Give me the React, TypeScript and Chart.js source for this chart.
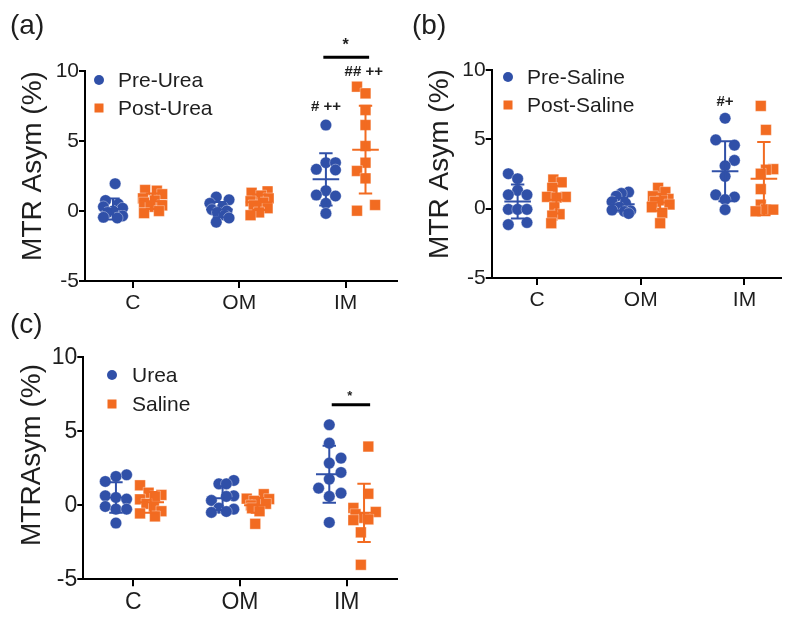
import React, { useEffect, useRef } from 'react';
import { Chart, registerables } from 'chart.js';

Chart.register(...registerables);

const FONT = "'Liberation Sans', Arial, Helvetica, sans-serif";
const BLUE = '#3050A8';
const ORANGE = '#F26B21';
const TEXT = '#1e1e1e';

const categories = ['C', 'OM', 'IM'];
const categoryPositions = [1, 2, 3];
const yTickValues = [-5, 0, 5, 10];

// ---------- (a) Urea ----------
const preUreaValues = [
  [1.95, 0.75, 0.5, 0.3, 0.2, 0.0, -0.1, -0.35, -0.45, -0.5],
  [1.0, 0.8, 0.55, 0.3, 0.1, 0.0, -0.1, -0.3, -0.5, -0.8],
  [6.14, 3.45, 3.45, 2.98, 2.93, 1.45, 1.14, 1.07, 0.55, -0.17],
];
const preUreaJitter = [
  [0.02, -0.07, 0.05, -0.09, 0.09, 0.0, -0.05, 0.09, -0.09, 0.04],
  [-0.03, 0.09, -0.09, 0.03, -0.07, 0.07, -0.02, 0.05, 0.09, -0.03],
  [0, 0, 0.09, -0.09, 0.09, 0, -0.09, 0.09, 0, 0],
];
const preUreaMean = [0.15, 0.1, 2.26];
const preUreaSD = [0.75, 0.55, 1.87];

const postUreaValues = [
  [1.5, 1.45, 1.2, 0.9, 0.75, 0.6, 0.4, 0.3, 0.0, -0.15],
  [1.4, 1.3, 1.1, 0.9, 0.7, 0.6, 0.4, 0.2, -0.1, -0.3],
  [8.88, 8.4, 7.21, 6.14, 4.64, 3.45, 2.86, 2.33, 0.02, 0.43],
];
const postUreaJitter = [
  [-0.07, 0.04, 0.09, -0.09, 0.02, -0.08, 0.09, -0.02, 0.06, -0.08],
  [0.08, -0.07, 0.02, 0.09, -0.08, 0.04, -0.05, 0.08, 0.0, -0.08],
  [-0.08, 0, 0, 0, 0, 0, -0.08, 0, -0.08, 0.09],
];
const postUreaMean = [0.7, 0.62, 4.38];
const postUreaSD = [0.55, 0.55, 3.13];

// ---------- (b) Saline ----------
const preSalineValues = [
  [2.52, 2.16, 1.32, 1.0, 1.0, -0.05, -0.05, -0.05, -1.0, -1.15],
  [1.2, 1.1, 0.9, 0.5, 0.4, 0.1, -0.1, -0.15, -0.2, -0.35],
  [6.52, 4.96, 4.58, 3.48, 3.09, 2.33, 1.0, 0.84, 0.65, -0.07],
];
const preSalineJitter = [
  [-0.09, 0, 0, -0.09, 0.09, -0.09, 0, 0.09, 0.09, -0.09],
  [0.07, 0.0, -0.05, -0.09, 0.04, -0.02, -0.09, 0.09, 0.03, 0.07],
  [0, -0.09, 0.09, 0.09, 0, 0, -0.09, 0.09, 0, 0],
];
const preSalineMean = [0.52, 0.32, 2.7];
const preSalineSD = [1.23, 0.45, 2.17];

const postSalineValues = [
  [2.1, 1.9, 1.5, 0.85, 0.85, 0.8, 0.1, -0.4, -0.5, -1.05],
  [1.5, 1.2, 0.9, 0.7, 0.6, 0.5, 0.3, 0.1, -0.3, -1.05],
  [7.41, 5.68, 2.85, 2.81, 2.52, 1.41, 0.29, -0.05, -0.07, -0.19],
];
const postSalineJitter = [
  [-0.03, 0.05, -0.04, -0.09, 0.09, 0.0, -0.02, 0.03, -0.04, -0.05],
  [-0.02, 0.05, -0.07, 0.08, 0.02, -0.05, 0.09, -0.08, 0.02, 0.0],
  [-0.03, 0.02, 0.09, 0.02, -0.03, -0.03, -0.03, 0.02, 0.09, -0.08],
];
const postSalineMean = [0.65, 0.45, 2.16];
const postSalineSD = [1.0, 0.6, 2.64];

// ---------- (c) Urea vs Saline ----------
const ureaValues = [
  [2.06, 1.95, 1.61, 0.64, 0.53, 0.42, -0.08, -0.26, -0.26, -1.2],
  [1.68, 1.45, 1.45, 0.64, 0.6, 0.33, -0.19, -0.26, -0.42, -0.48],
  [5.44, 4.2, 3.19, 2.85, 2.22, 1.77, 1.16, 0.82, 0.6, -1.16],
];
const ureaJitter = [
  [0.1, 0, -0.1, -0.1, 0, 0.1, -0.1, 0, 0.1, 0],
  [0.105, -0.035, 0.035, 0.105, 0.035, -0.105, -0.035, 0.105, 0.035, -0.105],
  [0, 0, 0.11, 0, 0.11, 0, -0.1, 0.11, 0, 0],
];
const ureaMean = [0.52, 0.48, 2.1];
const ureaSD = [1.03, 0.8, 1.92];

const salineValues = [
  [1.35, 0.85, 0.7, 0.6, 0.4, 0.1, -0.1, -0.4, -0.55, -0.75],
  [0.75, 0.45, 0.42, 0.3, 0.15, 0.1, 0, -0.2, -0.4, -1.25],
  [3.97, 0.78, -0.18, -0.45, -0.6, -0.85, -0.95, -1.0, -1.83, -4.02],
];
const salineJitter = [
  [-0.1, -0.02, 0.1, 0.04, -0.1, -0.04, 0.03, 0.1, -0.1, 0.04],
  [0.06, -0.1, 0.11, -0.03, 0.0, 0.08, -0.06, -0.05, 0.02, -0.02],
  [0.04, 0.04, -0.1, 0.11, -0.08, 0.0, 0.04, -0.1, -0.03, -0.03],
];
const salineMean = [0.2, 0.0, -0.51];
const salineSD = [0.7, 0.5, 1.97];

type SeriesDef = {
  label: string;
  values: number[][];
  jitter: number[][];
  mean: number[];
  sd: number[];
  color: string;
  style: 'circle' | 'rect';
  offset: number;
};

type TextMark = { text: string; x: number; y: number; size: number };
type BarMark = { x1: number; x2: number; y: number; width: number };

type PanelDef = {
  left: number;
  top: number;
  width: number;
  height: number;
  padTop: number;
  padRight: number;
  yWidth: number;
  xHeight: number;
  xMin: number;
  xMax: number;
  tickSize: number;
  letter: string;
  letterAt: [number, number];
  yTitle: string;
  yTitleAt: [number, number];
  yTitleSize: number;
  legendAt: [number, number];
  legendGap: number;
  legendTextDx: number;
  series: SeriesDef[];
  texts: TextMark[];
  bars: BarMark[];
};

const panels: PanelDef[] = [
  {
    left: 0, top: 0, width: 405, height: 320,
    padTop: 71, padRight: 5, yWidth: 85, xHeight: 39,
    xMin: 0.551, xMax: 3.48, tickSize: 21,
    letter: '(a)', letterAt: [10, 26],
    yTitle: 'MTR Asym (%)', yTitleAt: [33, 166], yTitleSize: 28,
    legendAt: [99, 80], legendGap: 28, legendTextDx: 19,
    series: [
      { label: 'Pre-Urea', values: preUreaValues, jitter: preUreaJitter, mean: preUreaMean, sd: preUreaSD, color: BLUE, style: 'circle', offset: -0.186 },
      { label: 'Post-Urea', values: postUreaValues, jitter: postUreaJitter, mean: postUreaMean, sd: postUreaSD, color: ORANGE, style: 'rect', offset: 0.186 },
    ],
    texts: [
      { text: '*', x: 3.0, y: 11.8, size: 16 },
      { text: '## ++', x: 3.17, y: 9.95, size: 15 },
      { text: '# ++', x: 2.814, y: 7.45, size: 15 },
    ],
    bars: [{ x1: 2.79, x2: 3.22, y: 10.98, width: 3 }],
  },
  {
    left: 405, top: 0, width: 384, height: 320,
    padTop: 70, padRight: 0, yWidth: 86.7, xHeight: 42,
    xMin: 0.563, xMax: 3.35, tickSize: 21,
    letter: '(b)', letterAt: [412, 26],
    yTitle: 'MTR Asym (%)', yTitleAt: [440, 164], yTitleSize: 28,
    legendAt: [508, 77], legendGap: 28, legendTextDx: 19,
    series: [
      { label: 'Pre-Saline', values: preSalineValues, jitter: preSalineJitter, mean: preSalineMean, sd: preSalineSD, color: BLUE, style: 'circle', offset: -0.187 },
      { label: 'Post-Saline', values: postSalineValues, jitter: postSalineJitter, mean: postSalineMean, sd: postSalineSD, color: ORANGE, style: 'rect', offset: 0.187 },
    ],
    texts: [{ text: '#+', x: 2.812, y: 7.72, size: 15 }],
    bars: [],
  },
  {
    left: 0, top: 300, width: 405, height: 317,
    padTop: 57.3, padRight: 8, yWidth: 83.3, xHeight: 37.7,
    xMin: 0.531, xMax: 3.47, tickSize: 23,
    letter: '(c)', letterAt: [10, 325],
    yTitle: 'MTRAsym (%)', yTitleAt: [32, 455], yTitleSize: 28,
    legendAt: [112, 375], legendGap: 29, legendTextDx: 20,
    series: [
      { label: 'Urea', values: ureaValues, jitter: ureaJitter, mean: ureaMean, sd: ureaSD, color: BLUE, style: 'circle', offset: -0.163 },
      { label: 'Saline', values: salineValues, jitter: salineJitter, mean: salineMean, sd: salineSD, color: ORANGE, style: 'rect', offset: 0.163 },
    ],
    texts: [{ text: '*', x: 3.03, y: 7.35, size: 13 }],
    bars: [{ x1: 2.86, x2: 3.22, y: 6.79, width: 3 }],
  },
];

function drawMarker(ctx: CanvasRenderingContext2D, style: string, x: number, y: number, color: string) {
  ctx.fillStyle = color;
  if (style === 'circle') {
    ctx.beginPath();
    ctx.arc(x, y, 5, 0, Math.PI * 2);
    ctx.fill();
  } else {
    ctx.fillRect(x - 4.5, y - 4.5, 9, 9);
  }
}

function makePlugin(p: PanelDef) {
  return {
    id: 'panelDecor',
    afterDatasetsDraw(chart: any) {
      const ctx: CanvasRenderingContext2D = chart.ctx;
      const xs = chart.scales.x;
      const ys = chart.scales.y;
      ctx.save();
      p.series.forEach((s) => {
        ctx.strokeStyle = s.color;
        ctx.lineWidth = 2;
        categoryPositions.forEach((c, i) => {
          const x = xs.getPixelForValue(c + s.offset);
          const ym = ys.getPixelForValue(s.mean[i]);
          const yt = ys.getPixelForValue(s.mean[i] + s.sd[i]);
          const yb = ys.getPixelForValue(s.mean[i] - s.sd[i]);
          ctx.beginPath();
          ctx.moveTo(x, yt);
          ctx.lineTo(x, yb);
          ctx.moveTo(x - 6.7, yt);
          ctx.lineTo(x + 6.7, yt);
          ctx.moveTo(x - 6.7, yb);
          ctx.lineTo(x + 6.7, yb);
          ctx.moveTo(x - 13.3, ym);
          ctx.lineTo(x + 13.3, ym);
          ctx.stroke();
        });
      });
      ctx.restore();
    },
    afterDraw(chart: any) {
      const ctx: CanvasRenderingContext2D = chart.ctx;
      const xs = chart.scales.x;
      const ys = chart.scales.y;
      ctx.save();
      ctx.fillStyle = TEXT;
      ctx.font = `28px ${FONT}`;
      ctx.textAlign = 'left';
      ctx.textBaseline = 'middle';
      ctx.fillText(p.letter, p.letterAt[0] - p.left, p.letterAt[1] - p.top);
      ctx.save();
      ctx.translate(p.yTitleAt[0] - p.left, p.yTitleAt[1] - p.top);
      ctx.rotate(-Math.PI / 2);
      ctx.font = `${p.yTitleSize}px ${FONT}`;
      ctx.textAlign = 'center';
      ctx.textBaseline = 'middle';
      ctx.fillText(p.yTitle, 0, 0);
      ctx.restore();
      p.series.forEach((s, i) => {
        const lx = p.legendAt[0] - p.left;
        const ly = p.legendAt[1] - p.top + i * p.legendGap;
        drawMarker(ctx, s.style, lx, ly, s.color);
        ctx.fillStyle = TEXT;
        ctx.font = `21px ${FONT}`;
        ctx.textAlign = 'left';
        ctx.textBaseline = 'middle';
        ctx.fillText(s.label, lx + p.legendTextDx, ly + 1);
      });
      p.texts.forEach((t) => {
        ctx.fillStyle = TEXT;
        ctx.font = `bold ${t.size}px ${FONT}`;
        ctx.textAlign = 'center';
        ctx.textBaseline = 'middle';
        ctx.fillText(t.text, xs.getPixelForValue(t.x), ys.getPixelForValue(t.y));
      });
      p.bars.forEach((b) => {
        ctx.strokeStyle = '#000';
        ctx.lineWidth = b.width;
        const y = ys.getPixelForValue(b.y);
        ctx.beginPath();
        ctx.moveTo(xs.getPixelForValue(b.x1), y);
        ctx.lineTo(xs.getPixelForValue(b.x2), y);
        ctx.stroke();
      });
      ctx.restore();
    },
  };
}

function buildDatasets(p: PanelDef) {
  return p.series.map((s) => {
    const data: { x: number; y: number }[] = [];
    categoryPositions.forEach((c, i) => {
      s.values[i].forEach((v, j) => {
        data.push({ x: c + s.offset + s.jitter[i][j], y: v });
      });
    });
    const r = s.style === 'circle' ? 5.8 : 7.6;
    return {
      label: s.label,
      data,
      showLine: false,
      pointStyle: s.style,
      pointRadius: r,
      pointHoverRadius: r,
      pointBackgroundColor: s.color,
      pointBorderColor: 'rgba(255,255,255,0.6)',
      pointBorderWidth: 0.6,
      clip: false as any,
    };
  });
}

function Panel({ p }: { p: PanelDef }) {
  const ref = useRef<HTMLCanvasElement | null>(null);
  useEffect(() => {
    if (!ref.current) return;
    const axisGrid = {
      display: true,
      drawOnChartArea: false,
      drawTicks: true,
      tickLength: 6,
      color: '#000',
      lineWidth: 2,
    };
    const chart = new Chart(ref.current, {
      type: 'scatter',
      data: { datasets: buildDatasets(p) as any },
      options: {
        animation: false,
        responsive: false,
        maintainAspectRatio: false,
        layout: { padding: { top: p.padTop, right: p.padRight, left: 0, bottom: 0 } },
        plugins: { legend: { display: false }, tooltip: { enabled: false } },
        events: [],
        scales: {
          x: {
            type: 'linear',
            min: p.xMin,
            max: p.xMax,
            afterBuildTicks: (scale: any) => {
              scale.ticks = categoryPositions.map((v) => ({ value: v }));
            },
            afterFit: (scale: any) => {
              scale.height = p.xHeight;
            },
            ticks: {
              autoSkip: false,
              maxRotation: 0,
              padding: 3,
              color: TEXT,
              font: { family: FONT, size: p.tickSize },
              callback: (value: any) => {
                const i = categoryPositions.indexOf(Number(value));
                return i >= 0 ? categories[i] : '';
              },
            },
            grid: { ...axisGrid, tickLength: 7 },
            border: { display: true, color: '#000', width: 2 },
          },
          y: {
            type: 'linear',
            min: -5,
            max: 10,
            afterBuildTicks: (scale: any) => {
              scale.ticks = yTickValues.map((v) => ({ value: v }));
            },
            afterFit: (scale: any) => {
              scale.width = p.yWidth;
            },
            ticks: {
              padding: 0,
              color: TEXT,
              font: { family: FONT, size: p.tickSize },
              callback: (value: any) => String(value),
            },
            grid: axisGrid,
            border: { display: true, color: '#000', width: 2 },
          },
        },
      } as any,
      plugins: [makePlugin(p) as any],
    });
    return () => chart.destroy();
  }, [p]);
  return (
    <canvas
      ref={ref}
      width={p.width}
      height={p.height}
      style={{ position: 'absolute', left: p.left, top: p.top, width: p.width, height: p.height }}
    />
  );
}

export default function App() {
  return (
    <div style={{ position: 'fixed', left: 0, top: 0, width: 789, height: 617, background: '#fff', overflow: 'hidden' }}>
      {panels.map((p, i) => (
        <Panel key={i} p={p} />
      ))}
    </div>
  );
}
